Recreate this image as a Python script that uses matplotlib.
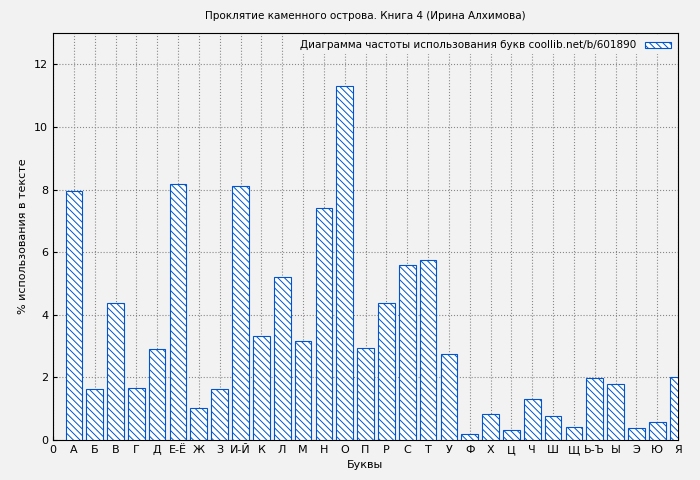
import matplotlib
matplotlib.use("Agg")
import matplotlib.pyplot as plt

letters = ["А","Б","В","Г","Д","Е-Ё","Ж","З","И-Й","К","Л","М","Н","О","П","Р","С","Т","У","Ф","Х","Ц","Ч","Ш","Щ","Ь-Ъ","Ы","Э","Ю","Я"]
values = [7.95,1.62,4.37,1.65,2.9,8.17,1.03,1.62,8.1,3.32,5.2,3.15,7.4,11.32,2.95,4.37,5.58,5.75,2.75,0.18,0.82,0.33,1.3,0.78,0.4,1.97,1.8,0.38,0.57,2.0]
tick_labels = ["0"] + letters

plt.rcParams['hatch.color'] = '#0055cc'
plt.rcParams['hatch.linewidth'] = 0.7
fig = plt.figure(figsize=(7, 4.8), dpi=100, facecolor='#f2f2f2')
ax = fig.add_axes([53/700, 40/480, 625/700, 407/480])
ax.set_facecolor('#f2f2f2')
xs = list(range(1, len(values) + 1))
ax.bar(xs, values, width=0.8, facecolor='white', edgecolor='#0055cc', hatch='\\\\\\\\\\', linewidth=0.8,
       label='Диаграмма частоты использования букв coollib.net/b/601890', zorder=3)
ax.set_xlim(0, 30)
ax.set_ylim(0, 13)
ax.set_xticks(range(0, 31))
ax.set_xticklabels(tick_labels, fontsize=8)
ax.set_yticks(range(0, 13, 2))
ax.tick_params(labelsize=8, direction='in', length=3)
ax.grid(True, linestyle=':', color='#888888', linewidth=0.8, zorder=0)
ax.set_xlabel('Буквы', fontsize=8)
ax.set_ylabel('% использования в тексте', fontsize=8)
ax.set_title('Проклятие каменного острова. Книга 4 (Ирина Алхимова)', fontsize=7.5, pad=10)
leg = ax.legend(loc='upper right', fontsize=7.5, frameon=True, framealpha=1, edgecolor='none', facecolor='#f2f2f2',
                handlelength=2.5, handleheight=0.5, markerfirst=False, borderaxespad=0.3)
fig.savefig('out.png', dpi=100, facecolor=fig.get_facecolor())
